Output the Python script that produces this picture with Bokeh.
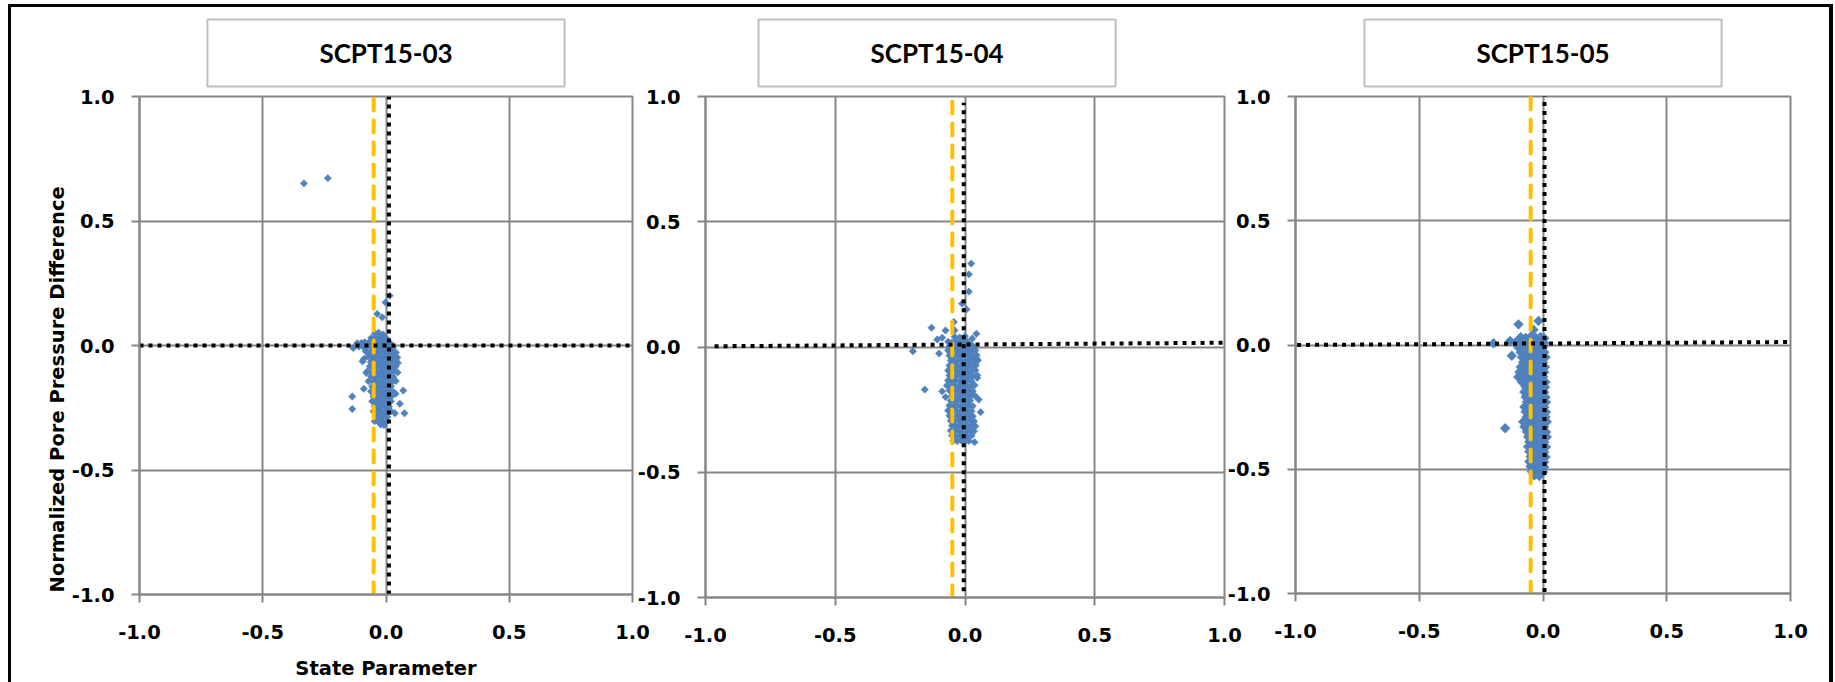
import math
from bokeh.plotting import figure
from bokeh.models import Range1d, FixedTicker
from bokeh.layouts import row
from bokeh.embed import file_html
from bokeh.resources import INLINE

# ---------------- data ----------------
panel_titles = ["SCPT15-03", "SCPT15-04", "SCPT15-05"]
x_axis_title = "State Parameter"
y_axis_title = "Normalized Pore Pressure Difference"
tick_values = [-1.0, -0.5, 0.0, 0.5, 1.0]
tick_labels = ["-1.0", "-0.5", "0.0", "0.5", "1.0"]

# SCPT15-03
p1_x = [
    -0.333, -0.236, 0.015, -0.002, -0.036, -0.015, -0.133, -0.117, -0.090, -0.090,
    -0.137, -0.137, 0.039, 0.070, 0.056, 0.036, 0.075, 0.048, -0.080,
    -0.045, -0.030, -0.012,
    -0.060, -0.042, -0.026, -0.010, 0.004,
    -0.100, -0.086, -0.071, -0.055, -0.040, -0.025, -0.010, 0.005, 0.018,
    -0.110, -0.092, -0.076, -0.060, -0.045, -0.030, -0.015, 0.000, 0.015, 0.028,
    -0.082, -0.066, -0.050, -0.035, -0.020, -0.005, 0.010, 0.025, 0.040,
    -0.072, -0.056, -0.040, -0.025, -0.010, 0.005, 0.020, 0.034, 0.046,
    -0.095, -0.062, -0.046, -0.031, -0.016, 0.000, 0.015, 0.030, 0.044,
    -0.066, -0.051, -0.036, -0.021, -0.006, 0.010, 0.025, 0.040,
    -0.076, -0.056, -0.041, -0.026, -0.011, 0.005, 0.020, 0.035, 0.047,
    -0.061, -0.046, -0.031, -0.016, 0.000, 0.015, 0.030,
    -0.071, -0.051, -0.036, -0.021, -0.006, 0.010, 0.025, 0.040,
    -0.056, -0.041, -0.026, -0.011, 0.005, 0.020,
    -0.061, -0.046, -0.031, -0.016, 0.000, 0.015, 0.030,
    -0.051, -0.036, -0.021, -0.006, 0.010, 0.022,
    -0.056, -0.041, -0.026, -0.011, 0.005, 0.020,
    -0.046, -0.031, -0.016, 0.000, 0.012,
    -0.051, -0.036, -0.021, -0.006, 0.010, 0.020,
    -0.041, -0.026, -0.011, 0.005,
    -0.046, -0.031, -0.016, 0.000,
    -0.021, -0.008,
]
p1_y = [
    0.651, 0.672, 0.200, 0.173, 0.127, 0.113, -0.010, 0.009, -0.054, -0.174,
    -0.205, -0.255, -0.194, -0.181, -0.234, -0.272, -0.272, -0.070, -0.110,
    0.049, 0.052, 0.044,
    0.030, 0.034, 0.028, 0.031, 0.026,
    0.010, 0.013, 0.011, 0.015, 0.012, 0.014, 0.010, 0.012, 0.008,
    -0.004, -0.006, -0.003, -0.005, -0.007, -0.004, -0.006, -0.003, -0.005, -0.008,
    -0.024, -0.027, -0.022, -0.026, -0.025, -0.023, -0.027, -0.024, -0.028,
    -0.044, -0.046, -0.043, -0.047, -0.045, -0.044, -0.046, -0.043, -0.048,
    -0.064, -0.066, -0.063, -0.067, -0.065, -0.064, -0.066, -0.063, -0.068,
    -0.084, -0.087, -0.083, -0.086, -0.085, -0.084, -0.087, -0.083,
    -0.104, -0.106, -0.103, -0.107, -0.105, -0.104, -0.106, -0.103, -0.108,
    -0.124, -0.127, -0.123, -0.126, -0.125, -0.124, -0.127,
    -0.144, -0.146, -0.143, -0.147, -0.145, -0.144, -0.146, -0.143,
    -0.164, -0.166, -0.163, -0.167, -0.165, -0.164,
    -0.184, -0.186, -0.183, -0.187, -0.185, -0.184, -0.186,
    -0.204, -0.206, -0.203, -0.207, -0.205, -0.204,
    -0.224, -0.226, -0.223, -0.227, -0.225, -0.224,
    -0.244, -0.246, -0.243, -0.247, -0.245,
    -0.264, -0.266, -0.263, -0.267, -0.265, -0.264,
    -0.284, -0.286, -0.283, -0.287,
    -0.304, -0.306, -0.303, -0.307,
    -0.318, -0.320,
]

# SCPT15-04
p2_x = [
    0.024, 0.015, 0.015, -0.011, 0.006, -0.043, -0.129, -0.075, -0.040, 0.044,
    0.028, -0.107, -0.088, -0.201, -0.100, -0.155, -0.088, -0.075, 0.044, 0.047,
    0.053, 0.060, 0.037,
    -0.040, -0.020, 0.000,
    -0.065, -0.050, -0.035, -0.020, -0.005, 0.010,
    -0.060, -0.045, -0.030, -0.015, 0.000, 0.015, 0.028,
    -0.065, -0.050, -0.035, -0.020, -0.005, 0.010, 0.025, 0.040,
    -0.060, -0.045, -0.030, -0.015, 0.000, 0.015, 0.030, 0.045,
    -0.055, -0.040, -0.025, -0.010, 0.005, 0.020, 0.035, 0.050,
    -0.060, -0.045, -0.030, -0.015, 0.000, 0.015, 0.030, 0.042,
    -0.065, -0.050, -0.035, -0.020, -0.005, 0.010, 0.025, 0.040,
    -0.060, -0.045, -0.030, -0.015, 0.000, 0.015, 0.030, 0.047,
    -0.065, -0.050, -0.035, -0.020, -0.005, 0.010, 0.025,
    -0.070, -0.055, -0.040, -0.025, -0.010, 0.005, 0.020, 0.037,
    -0.060, -0.045, -0.030, -0.015, 0.000, 0.015, 0.030,
    -0.050, -0.035, -0.020, -0.005, 0.010, 0.025, 0.040,
    -0.055, -0.040, -0.025, -0.010, 0.005, 0.020,
    -0.060, -0.045, -0.030, -0.015, 0.000, 0.015, 0.030,
    -0.065, -0.050, -0.035, -0.020, -0.005, 0.010, 0.025,
    -0.060, -0.045, -0.030, -0.015, 0.000, 0.015, 0.030,
    -0.055, -0.040, -0.025, -0.010, 0.005, 0.020, 0.035,
    -0.050, -0.035, -0.020, -0.005, 0.010, 0.025, 0.040,
    -0.055, -0.040, -0.025, -0.010, 0.005, 0.020, 0.035,
    -0.050, -0.035, -0.020, -0.005, 0.010, 0.025,
    -0.045, -0.030, -0.015, 0.000, 0.015,
]
p2_y = [
    0.333, 0.290, 0.221, 0.173, 0.150, 0.100, 0.077, 0.066, 0.067, 0.053,
    0.034, 0.030, 0.037, -0.017, -0.026, -0.170, -0.177, -0.200, -0.046, -0.123,
    -0.210, -0.260, -0.380,
    0.041, 0.038, 0.043,
    0.021, 0.018, 0.022, 0.019, 0.023, 0.020,
    0.004, 0.006, 0.003, 0.007, 0.005, 0.004, 0.006,
    -0.014, -0.016, -0.013, -0.017, -0.015, -0.014, -0.016, -0.013,
    -0.034, -0.036, -0.033, -0.037, -0.035, -0.034, -0.036, -0.033,
    -0.054, -0.056, -0.053, -0.057, -0.055, -0.054, -0.056, -0.053,
    -0.074, -0.076, -0.073, -0.077, -0.075, -0.074, -0.076, -0.073,
    -0.094, -0.096, -0.093, -0.097, -0.095, -0.094, -0.096, -0.093,
    -0.114, -0.116, -0.113, -0.117, -0.115, -0.114, -0.116, -0.113,
    -0.134, -0.136, -0.133, -0.137, -0.135, -0.134, -0.136,
    -0.154, -0.156, -0.153, -0.157, -0.155, -0.154, -0.156, -0.153,
    -0.174, -0.176, -0.173, -0.177, -0.175, -0.174, -0.176,
    -0.194, -0.196, -0.193, -0.197, -0.195, -0.194, -0.196,
    -0.214, -0.216, -0.213, -0.217, -0.215, -0.214,
    -0.234, -0.236, -0.233, -0.237, -0.235, -0.234, -0.236,
    -0.254, -0.256, -0.253, -0.257, -0.255, -0.254, -0.256,
    -0.274, -0.276, -0.273, -0.277, -0.275, -0.274, -0.276,
    -0.294, -0.296, -0.293, -0.297, -0.295, -0.294, -0.296,
    -0.314, -0.316, -0.313, -0.317, -0.315, -0.314, -0.316,
    -0.334, -0.336, -0.333, -0.337, -0.335, -0.334, -0.336,
    -0.354, -0.356, -0.353, -0.357, -0.355, -0.354,
    -0.374, -0.376, -0.373, -0.377, -0.375,
]

# SCPT15-05
p3_x = [
    -0.099, -0.018, -0.038, -0.200, -0.133, -0.126, -0.153,
    -0.090, -0.070, -0.050, -0.030, -0.010, 0.005,
    -0.110, -0.090, -0.070, -0.050, -0.030, -0.010, 0.005,
    -0.100, -0.080, -0.060, -0.040, -0.020, 0.000,
    -0.090, -0.070, -0.050, -0.030, -0.010, 0.005,
    -0.085, -0.065, -0.045, -0.025, -0.005, 0.010,
    -0.080, -0.060, -0.040, -0.020, 0.000,
    -0.090, -0.070, -0.050, -0.030, -0.010, 0.008,
    -0.095, -0.075, -0.055, -0.035, -0.015, 0.005,
    -0.100, -0.080, -0.060, -0.040, -0.020, 0.000,
    -0.085, -0.065, -0.045, -0.025, -0.005, 0.010,
    -0.070, -0.050, -0.030, -0.010, 0.008,
    -0.075, -0.055, -0.035, -0.015, 0.005,
    -0.070, -0.050, -0.030, -0.010, 0.010,
    -0.065, -0.045, -0.025, -0.005, 0.012,
    -0.075, -0.055, -0.035, -0.015, 0.005,
    -0.070, -0.050, -0.030, -0.010, 0.012,
    -0.065, -0.045, -0.025, -0.005, 0.010,
    -0.080, -0.060, -0.040, -0.020, 0.000, 0.015,
    -0.075, -0.055, -0.035, -0.015, 0.005,
    -0.065, -0.045, -0.025, -0.005, 0.012,
    -0.060, -0.040, -0.020, 0.000, 0.015,
    -0.055, -0.035, -0.015, 0.005,
    -0.060, -0.040, -0.020, 0.000, 0.012,
    -0.055, -0.035, -0.015, 0.005,
    -0.050, -0.030, -0.010, 0.010,
    -0.055, -0.035, -0.015, 0.005,
    -0.050, -0.030, -0.010, 0.005,
    -0.045, -0.030, -0.015, 0.000,
    -0.035, -0.015,
]
p3_y = [
    0.083, 0.097, 0.061, 0.007, 0.016, -0.043, -0.335,
    0.031, 0.028, 0.033, 0.029, 0.032, 0.027,
    0.011, 0.008, 0.012, 0.009, 0.013, 0.010, 0.008,
    -0.009, -0.012, -0.008, -0.011, -0.010, -0.009,
    -0.029, -0.032, -0.028, -0.031, -0.030, -0.029,
    -0.049, -0.052, -0.048, -0.051, -0.050, -0.049,
    -0.069, -0.072, -0.068, -0.071, -0.070,
    -0.089, -0.092, -0.088, -0.091, -0.090, -0.089,
    -0.109, -0.112, -0.108, -0.111, -0.110, -0.109,
    -0.129, -0.132, -0.128, -0.131, -0.130, -0.129,
    -0.149, -0.152, -0.148, -0.151, -0.150, -0.149,
    -0.169, -0.172, -0.168, -0.171, -0.170,
    -0.189, -0.192, -0.188, -0.191, -0.190,
    -0.209, -0.212, -0.208, -0.211, -0.210,
    -0.229, -0.232, -0.228, -0.231, -0.230,
    -0.249, -0.252, -0.248, -0.251, -0.250,
    -0.269, -0.272, -0.268, -0.271, -0.270,
    -0.289, -0.292, -0.288, -0.291, -0.290,
    -0.309, -0.312, -0.308, -0.311, -0.310, -0.309,
    -0.329, -0.332, -0.328, -0.331, -0.330,
    -0.349, -0.352, -0.348, -0.351, -0.350,
    -0.369, -0.372, -0.368, -0.371, -0.370,
    -0.389, -0.392, -0.388, -0.391,
    -0.409, -0.412, -0.408, -0.411, -0.410,
    -0.429, -0.432, -0.428, -0.431,
    -0.449, -0.452, -0.448, -0.451,
    -0.469, -0.472, -0.468, -0.471,
    -0.489, -0.492, -0.488, -0.491,
    -0.509, -0.512, -0.508, -0.511,
    -0.524, -0.527,
]

# reference lines (state parameter threshold, zero lines)
yellow_line_x = [-0.050, -0.049, -0.050]
yellow_line_y = [-1.0, 1.0]
p1_hline_x = [-1.0, 1.0]
p1_hline_y = [0.0, 0.0]
p1_vline_x = [0.012, 0.012]
p1_vline_y = [-1.0, 1.0]
p2_hline_x = [-0.965, 1.0]
p2_hline_y = [0.003, 0.017]
p2_vline_x = [-0.005, -0.005]
p2_vline_y = [-0.975, 0.975]
p3_hline_x = [-1.03, 1.01]
p3_hline_y = [0.0, 0.012]
p3_vline_x = [0.006, 0.006]
p3_vline_y = [-1.03, 1.03]

# ---------------- style ----------------
TICK_FONT = "DejaVu Sans"
TITLE_FONT = "Lato"
GRID = "#868686"
BLUE = "#4F81BD"
GOLD = "#FFC000"


def make_panel(sx, sy, hx, hy, vx, vy, yellow_x, title, title_align, title_offset,
               mb_left, fw, mb_right, mb_top, fh, mb_bottom, msize,
               with_labels, shift):
    p = figure(output_backend="svg", toolbar_location=None,
               frame_width=fw, frame_height=fh,
               min_border_left=mb_left, min_border_right=mb_right,
               min_border_top=mb_top, min_border_bottom=mb_bottom,
               x_range=Range1d(-1, 1), y_range=Range1d(-1, 1),
               background_fill_color="white", border_fill_alpha=0.0,
               margin=(0, 0, 0, shift), title=title)
    ticker = FixedTicker(ticks=tick_values)
    overrides = {v: s for v, s in zip(tick_values, tick_labels)}
    for ax in (p.xaxis[0], p.yaxis[0]):
        ax.ticker = ticker
        ax.major_label_overrides = overrides
        ax.axis_line_color = GRID
        ax.axis_line_width = 2
        ax.major_tick_line_color = GRID
        ax.major_tick_line_width = 2
        ax.major_tick_out = 8
        ax.major_tick_in = 0
        ax.minor_tick_line_color = None
        ax.major_label_text_font = TICK_FONT
        ax.major_label_text_font_style = "bold"
        ax.major_label_text_font_size = "19.5px"
        ax.major_label_text_color = "black"
        ax.axis_label_text_font = TICK_FONT
        ax.axis_label_text_font_style = "bold"
        ax.axis_label_text_font_size = "19.5px"
        ax.axis_label_text_color = "black"
    p.xaxis.major_label_standoff = 22
    p.yaxis.major_label_standoff = 17
    if with_labels:
        p.xaxis.axis_label = x_axis_title
        p.yaxis.axis_label = y_axis_title + "\u2003\u2003\u2003\u2003\u2002"
        p.xaxis.axis_label_standoff = 15
        p.yaxis.axis_label_standoff = 0
    p.xgrid.ticker = ticker
    p.ygrid.ticker = ticker
    p.xgrid.grid_line_color = GRID
    p.ygrid.grid_line_color = GRID
    p.xgrid.grid_line_width = 2
    p.ygrid.grid_line_width = 2
    p.outline_line_color = GRID
    p.outline_line_width = 2

    t = p.title
    t.align = title_align
    t.offset = title_offset
    t.text_font = TITLE_FONT
    t.text_font_style = "bold"
    t.text_font_size = "26px"
    t.text_color = "black"
    t.background_fill_color = "white"
    t.border_line_color = "#BFBFBF"
    t.border_line_width = 2
    t.padding = dict(left=112, right=112, top=17, bottom=18)
    t.standoff = 20

    p.scatter(sx, sy, marker="square", size=msize, angle=math.pi / 4,
              fill_color=BLUE, line_color=BLUE, line_width=0.5)
    p.line([yellow_x, yellow_x], yellow_line_y, line_color=GOLD,
           line_width=4, line_dash="12 10", line_cap="round")
    p.line(vx, vy, line_color="black", line_width=4, line_dash="4 5")
    p.line(hx, hy, line_color="black", line_width=4, line_dash="4 5")
    return p


p1 = make_panel(p1_x, p1_y, p1_hline_x, p1_hline_y, p1_vline_x, p1_vline_y,
                yellow_line_x[0], panel_titles[0], "center", 0,
                128, 493, 20, 89, 498, 88, 5.2, True, 0)
p2 = make_panel(p2_x, p2_y, p2_hline_x, p2_hline_y, p2_vline_x, p2_vline_y,
                yellow_line_x[1], panel_titles[1], "left", 53,
                74, 519, 20, 86, 501, 88, 5.2, False, -21)
p3 = make_panel(p3_x, p3_y, p3_hline_x, p3_hline_y, p3_vline_x, p3_vline_y,
                yellow_line_x[2], panel_titles[2], "center", 0,
                68, 495, 39, 88, 497, 90, 7.0, False, -20)

layout = row(p1, p2, p3, margin=(4, 0, 0, 8),
             styles={"border-top": "3px solid black",
                     "border-left": "3px solid black",
                     "border-right": "4px solid black",
                     "background-color": "white"})

open("out.html", "w").write(file_html(layout, INLINE))
